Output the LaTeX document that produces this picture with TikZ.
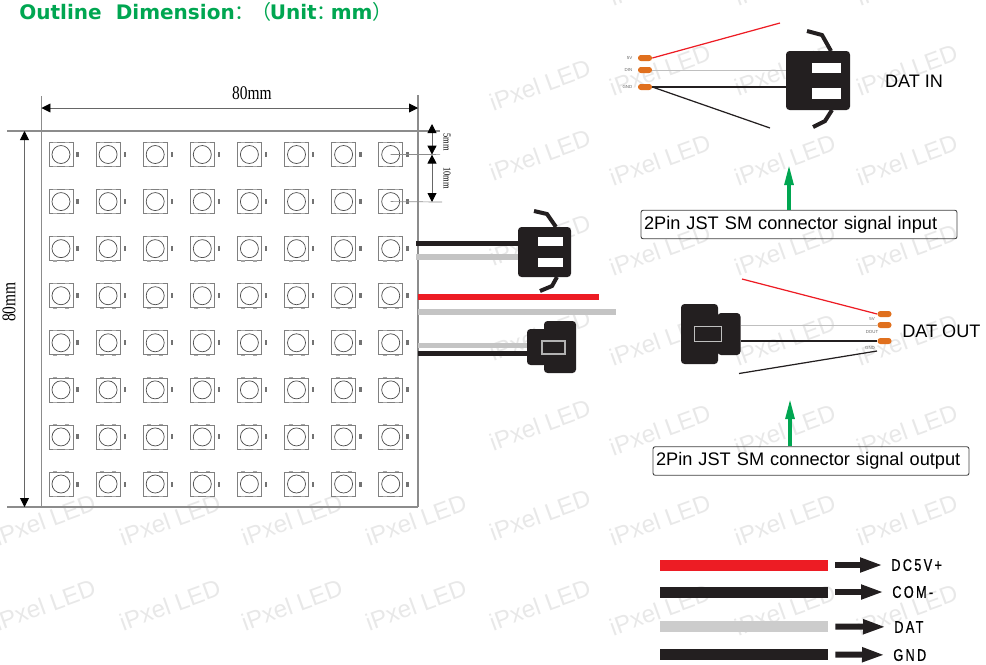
\documentclass[tikz,border=0pt]{standalone}
\usepackage{fontspec}
\setmainfont{Liberation Sans}
\newfontfamily\titlefont{DejaVu Sans}
\newfontfamily\cjk{Noto Sans CJK SC}
\newfontfamily\dimfont[FakeStretch=0.8]{Liberation Serif}
\newfontfamily\legendfont[FakeStretch=0.75,LetterSpace=14,FakeBold=0.6]{Liberation Sans}
\usetikzlibrary{positioning, arrows.meta}
\definecolor{ledgreen}{HTML}{00A651}
\definecolor{wirered}{HTML}{ED1C24}
\definecolor{wireblack}{HTML}{231F20}
\definecolor{wiregray}{HTML}{C4C4C4}
\definecolor{padorange}{HTML}{E0701E}
\tikzset{
	mark text/.style={text=black!9, font=\fontsize{13.7}{14}\selectfont, rotate=20, inner sep=0},
	outline/.style={black!45, line width=.6pt},
	dimline/.style={black!60, line width=.5pt, {Triangle[length=.18cm,width=.18cm,black]}-{Triangle[length=.18cm,width=.18cm,black]}},
	ledbox/.style={draw=black!50, line width=.4pt, minimum size=.48cm, inner sep=0},
	housing/.style={fill=wireblack, rounded corners=2pt, inner sep=0},
	slot/.style={fill=white, inner sep=0},
	hook/.style={wireblack, line width=.08cm},
	pad/.style={fill=padorange, rounded corners=1.6pt, minimum width=.28cm, minimum height=.12cm, inner sep=0},
	pad text/.style={text=black!60, font=\fontsize{2.5}{3}\selectfont, inner sep=0},
	signal box/.style={draw=black!75, line width=.5pt, rounded corners=1.2pt, text width=6.2cm, align=left, inner xsep=.06cm, inner ysep=0, minimum height=.57cm, font=\fontsize{10.35}{12}\selectfont},
	green arrow/.style={ledgreen, line width=.08cm, -{Triangle[length=.42cm,width=.17cm]}},
	legend bar/.style={minimum width=3.36cm, minimum height=.22cm, inner sep=0},
	legend text/.style={font=\legendfont\fontsize{9.6}{10}\selectfont, inner sep=0, anchor=west},
	legend arrow/.style={wireblack, line width=.12cm, shorten <=.14cm, shorten >=.16cm, -{Triangle[length=.46cm,width=.27cm]}},
}

\begin{document}
\begin{tikzpicture}[x=.02cm, y=-.02cm]
	\useasboundingbox (0, 0) rectangle (986, 664);
	% Watermark
	\begin{scope}
		\clip (0, 0) rectangle (986, 664);
		\foreach \y in {-20, 70, 160, 250, 340, 430, 520, 610} {
			\foreach \x in {660, 785, 907} {
				\node[mark text] (mark\x\y) at (\x, \y) {iPxel LED};
			}
		}
		\foreach \y in {85, 155, 240, 335, 425, 515, 605} {
			\node[mark text] (markC\y) at (540, \y) {iPxel LED};
		}
		\foreach \x in {45, 170, 292, 416} {
			\node[mark text] (markA\x) at (\x, 520) {iPxel LED};
			\node[mark text] (markB\x) at (\x, 605) {iPxel LED};
		}
	\end{scope}

	% Title
	\node[anchor=west, inner sep=0, text=ledgreen, font=\titlefont\bfseries\fontsize{11.4}{13}\selectfont] (title) at (19, 12)
		{Outline\hspace{.35em} Dimension{\cjk\mdseries：\hspace{-.15em}（\hspace{-.1em}}Unit{\cjk\mdseries：\hspace{-.3em}}mm{\cjk\mdseries）}};

	% Board outline
	\draw[outline] (41.5, 96) -- (41.5, 507);
	\draw[outline] (418, 95) -- (418, 507);
	\draw[outline] (7, 131) -- (440, 131);
	\draw[outline] (7, 507) -- (418, 507);

	% LEDs
	\foreach \row in {0,...,7} {
		\foreach \col in {0,...,7} {
			\node[ledbox] (led\col\row) at ({61+47.1*\col}, {154.5+47.07*\row}) {};
			\draw[black!70, line width=.4pt] (led\col\row.center) circle (9);
			\fill[black!55] ([xshift=.31cm, yshift=-.05cm]led\col\row.center) rectangle ++(2.4, -5);
			\foreach \s in {-6, 6} {
				\draw[black!35, line width=.6pt] ([xshift=\s*.02cm-.04cm]led\col\row.north) -- ++(4, 0);
				\draw[black!35, line width=.6pt] ([xshift=\s*.02cm-.04cm]led\col\row.south) -- ++(4, 0);
			}
		}
	}

	% Dimensions
	\coordinate (widthL) at (41.5, 108);
	\coordinate (widthR) at (418, 108);
	\coordinate (heightT) at (24.5, 131);
	\coordinate (heightB) at (24.5, 507);
	\coordinate (pitchA) at (432, 124);
	\coordinate (pitchB) at (432, 154.6);
	\coordinate (pitchC) at (432, 202);
	\draw[dimline] (widthL) -- (widthR);
	\draw[dimline] (heightT) -- (heightB);
	\draw[dimline] (pitchA) -- (pitchB);
	\draw[dimline] (pitchB) -- (pitchC);
	\draw[outline, line width=.4pt] (led70.center) -- (440, 154.6);
	\draw[outline, line width=.4pt] (led71.center) -- (442, 202);
	\node[inner sep=0, font=\dimfont\fontsize{11}{12}\selectfont] (widthText) at (252, 93) {80mm};
	\node[inner sep=0, rotate=90, font=\dimfont\fontsize{11}{12}\selectfont] (heightText) at (9, 302) {80mm};
	\node[inner sep=0, rotate=-90, font=\dimfont\fontsize{6}{7}\selectfont] (fiveText) at (447, 142) {5mm};
	\node[inner sep=0, rotate=-90, font=\dimfont\fontsize{6}{7}\selectfont] (tenText) at (447, 178) {10mm};

	% Wires on the board
	\node[housing, minimum width=1.06cm, minimum height=1cm] (socket) at (544.5, 252) {};
	\node[slot, minimum width=.5cm, minimum height=.18cm] (socketA) at (550.5, 241.5) {};
	\node[slot, minimum width=.5cm, minimum height=.18cm] (socketB) at (550.5, 262.5) {};
	\draw[hook] (534, 211) -- (547, 214) -- (556, 227);
	\draw[hook] (540, 291) -- (552, 286) -- (557, 277);
	\coordinate (boardA) at (416, 243);
	\coordinate (boardB) at (416, 257);
	\coordinate (boardC) at (418, 296.5);
	\coordinate (boardD) at (418, 312);
	\coordinate (boardE) at (418, 345.5);
	\coordinate (boardF) at (418, 353.5);
	\coordinate (endC) at (599, 296.5);
	\coordinate (endD) at (616, 312);
	\draw[wireblack, line width=.1cm] (boardA) -- (boardA -| socket.west);
	\draw[wiregray, line width=.12cm] (boardB) -- (boardB -| socket.west);
	\draw[wirered, line width=.12cm] (boardC) -- (endC);
	\draw[wiregray, line width=.12cm] (boardD) -- (endD);
	\node[housing, minimum width=.4cm, minimum height=.72cm] (plugBack) at (537, 347) {};
	\node[housing, minimum width=.64cm, minimum height=1.04cm] (plugMain) at (560, 347) {};
	\node[draw=black!30, line width=.6pt, minimum width=.46cm, minimum height=.26cm, inner sep=0] (plugSlot) at (553.5, 347.5) {};
	\draw[wiregray, line width=.1cm] (boardE) -- (boardE -| plugBack.west);
	\draw[wireblack, line width=.1cm] (boardF) -- (boardF -| plugBack.west);

	% DAT IN
	\node[housing, minimum width=1.28cm, minimum height=1.18cm] (inBody) at (818, 80.5) {};
	\node[slot, minimum width=.58cm, minimum height=.2cm] (inSlotA) at (826.5, 68) {};
	\node[slot, minimum width=.58cm, minimum height=.22cm] (inSlotB) at (826.5, 93.5) {};
	\draw[hook] (807, 31) -- (822, 35) -- (831, 51);
	\draw[hook] (813, 127) -- (825, 121) -- (832, 110);
	\node[pad] (inPadA) at (645, 58) {};
	\node[pad] (inPadB) at (645, 70) {};
	\node[pad] (inPadC) at (645, 87) {};
	\coordinate (inRedEnd) at (780, 23);
	\coordinate (inBlackEnd) at (770, 128);
	\draw[wirered, line width=.7pt] (inPadA.east) -- (inRedEnd);
	\draw[black!25, line width=.5pt] (inPadB.east) -- (inPadB -| inBody.west);
	\draw[wireblack, line width=.7pt] (inPadC.east) -- (inPadC -| inBody.west);
	\draw[wireblack, line width=.7pt] (inPadC.east) -- (inBlackEnd);
	\node[pad text, left=.1cm of inPadA] (inTextA) {5V};
	\node[pad text, left=.1cm of inPadB] (inTextB) {DIN};
	\node[pad text, left=.1cm of inPadC] (inTextC) {GND};
	\node[inner sep=0, font=\fontsize{10.3}{12}\selectfont] (inText) at (914, 81) {DAT IN};
	\node[signal box] (inBox) at (799, 224.5) {2Pin JST SM connector signal input};
	\coordinate (inTip) at (789, 164);
	\draw[green arrow] (inTip |- inBox.north) -- (inTip);

	% DAT OUT
	\node[housing, minimum width=.74cm, minimum height=1.2cm] (outMain) at (699.5, 334) {};
	\node[housing, minimum width=.46cm, minimum height=.84cm] (outBack) at (729, 334) {};
	\node[draw=black!25, line width=.5pt, minimum width=.54cm, minimum height=.3cm, inner sep=0] (outSlot) at (707.5, 333.5) {};
	\node[pad] (outPadA) at (884.5, 314) {};
	\node[pad] (outPadB) at (884.5, 325) {};
	\node[pad] (outPadC) at (884.5, 341) {};
	\coordinate (outRedEnd) at (742, 279);
	\coordinate (outBlackA) at (739, 373.5);
	\coordinate (outBlackB) at (877, 351);
	\draw[wirered, line width=.7pt] (outRedEnd) -- (outPadA.west);
	\draw[black!25, line width=.5pt] (outPadB -| outBack.east) -- (outPadB.west);
	\draw[wireblack, line width=.7pt] (outPadC -| outBack.east) -- (outPadC.west);
	\draw[wireblack, line width=.7pt] (outBlackA) -- (outBlackB);
	\node[pad text] (outTextA) at (872, 319) {5V};
	\node[pad text] (outTextB) at (872, 332) {DOUT};
	\node[pad text] (outTextC) at (870, 348) {GND};
	\node[inner sep=0, anchor=west, font=\fontsize{10.3}{12}\selectfont] (outText) at (902, 331) {DAT OUT};
	\node[signal box] (outBox) at (811, 461) {2Pin JST SM connector signal output};
	\coordinate (outTip) at (790, 398);
	\draw[green arrow] (outTip |- outBox.north) -- (outTip);

	% Legend
	\node[legend bar, fill=wirered] (barRed) at (744, 565) {};
	\node[legend bar, fill=wireblack] (barCom) at (744, 592) {};
	\node[legend bar, fill=black!20] (barDat) at (744, 626) {};
	\node[legend bar, fill=wireblack] (barGnd) at (744, 654) {};
	\node[legend text] (textRed) at (891, 565) {DC5V+};
	\node[legend text] (textCom) at (892, 592) {COM-};
	\node[legend text] (textDat) at (894, 627) {DAT};
	\node[legend text] (textGnd) at (893, 655) {GND};
	\foreach \a/\b in {barRed/textRed, barCom/textCom, barDat/textDat, barGnd/textGnd} {
		\draw[legend arrow] (\a) -- (\b);
	}
\end{tikzpicture}
\end{document}
